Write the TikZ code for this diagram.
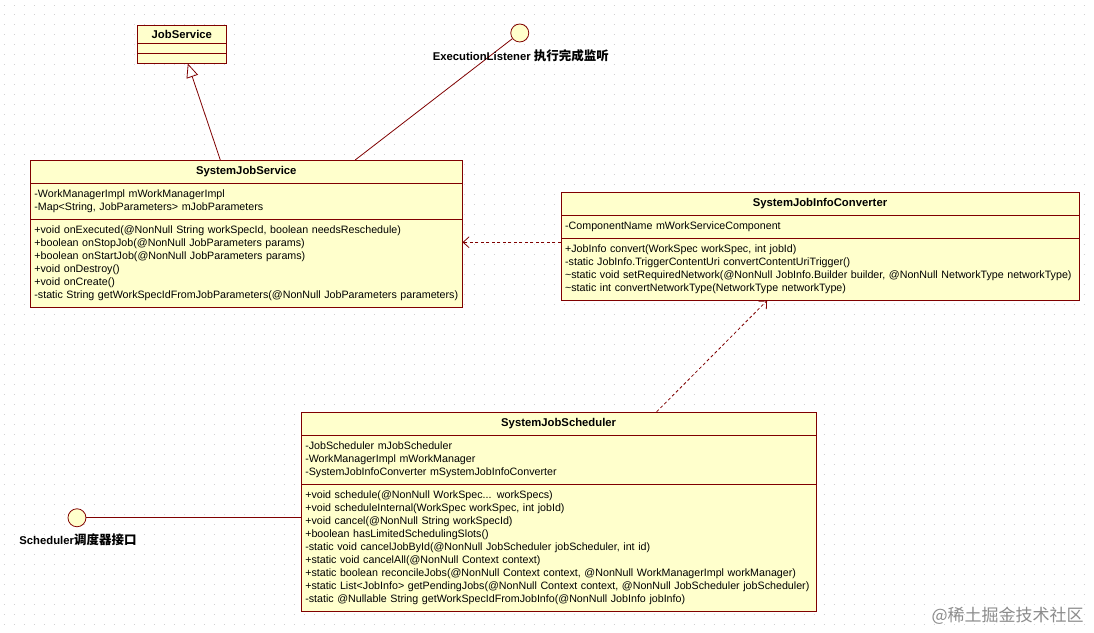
\documentclass[tikz,border=0pt]{standalone}
\usepackage{fontspec}
\setmainfont{Liberation Sans}
\newfontfamily\cjk{Noto Sans CJK SC}
\usetikzlibrary{shapes.multipart,arrows.meta}
\definecolor{umlfill}{RGB}{255,255,204}
\definecolor{umlline}{RGB}{128,0,0}
\tikzset{
    umlclass/.style={draw=umlline, fill=umlfill, rectangle split, rectangle split parts=3,
        anchor=north west, inner xsep=4pt, inner ysep=6pt, align=left,
        font=\fontsize{10.7}{13}\selectfont, line width=0.8pt},
    lollipop/.style={circle, draw=umlline, fill=umlfill, minimum size=18pt, inner sep=0pt, line width=0.8pt},
    umllabel/.style={font=\fontsize{11.3}{13}\selectfont\bfseries},
    assoc/.style={draw=umlline, line width=0.8pt},
    realize/.style={assoc, -{Triangle[open, length=14pt, width=12pt]}},
    depend/.style={assoc, dash pattern=on 3pt off 2.5pt, -{Straight Barb[length=6pt, width=11pt]}},
}
\newcommand{\classname}[1]{\hfill\textbf{\fontsize{11.3}{13}\selectfont #1}\hfill\null}
\newcommand{\zh}[1]{{\cjk\fontsize{12.5}{13}\selectfont #1}}

\begin{document}
\begin{tikzpicture}[x=1pt, y=-1pt]
\fill[white] (0,0) rectangle (1094,633);
\foreach \y in {5,15,...,625}
    \draw[black!18, line width=1pt, dash pattern=on 1pt off 9pt] (4,\y) -- (1094,\y);
\useasboundingbox (0,0) rectangle (1094,633);

\node[umlclass, text width=81pt, inner ysep=4.5pt] (jsvc) at (137,25)
    {\classname{JobService} \nodepart{second} \nodepart{third} };

\node[umlclass, text width=424pt] (sjs) at (30,160) {\classname{SystemJobService}
    \nodepart{second}
    -WorkManagerImpl mWorkManagerImpl\\
    -Map<String, JobParameters> mJobParameters
    \nodepart{third}
    +void onExecuted(@NonNull String workSpecId, boolean needsReschedule)\\
    +boolean onStopJob(@NonNull JobParameters params)\\
    +boolean onStartJob(@NonNull JobParameters params)\\
    +void onDestroy()\\
    +void onCreate()\\
    -static String getWorkSpecIdFromJobParameters(@NonNull JobParameters parameters)};

\node[umlclass, text width=510pt] (conv) at (561,192) {\classname{SystemJobInfoConverter}
    \nodepart{second}
    -ComponentName mWorkServiceComponent
    \nodepart{third}
    +JobInfo convert(WorkSpec workSpec, int jobId)\\
    -static JobInfo.TriggerContentUri convertContentUriTrigger()\\
    \textasciitilde static void setRequiredNetwork(@NonNull JobInfo.Builder builder, @NonNull NetworkType networkType)\\
    \textasciitilde static int convertNetworkType(NetworkType networkType)};

\node[umlclass, text width=507pt] (sched) at (301,412) {\classname{SystemJobScheduler}
    \nodepart{second}
    -JobScheduler mJobScheduler\\
    -WorkManagerImpl mWorkManager\\
    -SystemJobInfoConverter mSystemJobInfoConverter
    \nodepart{third}
    +void schedule(@NonNull WorkSpec... workSpecs)\\
    +void scheduleInternal(WorkSpec workSpec, int jobId)\\
    +void cancel(@NonNull String workSpecId)\\
    +boolean hasLimitedSchedulingSlots()\\
    -static void cancelJobById(@NonNull JobScheduler jobScheduler, int id)\\
    +static void cancelAll(@NonNull Context context)\\
    +static boolean reconcileJobs(@NonNull Context context, @NonNull WorkManagerImpl workManager)\\
    +static List<JobInfo> getPendingJobs(@NonNull Context context, @NonNull JobScheduler jobScheduler)\\
    -static @Nullable String getWorkSpecIdFromJobInfo(@NonNull JobInfo jobInfo)};

\node[lollipop] (execl) at (520,33) {};
\node[lollipop] (schd) at (77,518) {};

\draw[assoc] (execl) -- ([xshift=109pt]sjs.north);
\draw[assoc] (schd) -- (schd -| sched.west);
\draw[realize] ([xshift=-26pt]sjs.north) -- ([xshift=6pt]jsvc.south);
\draw[depend] ([yshift=4pt]conv.west) -- ([yshift=4pt]conv.west -| sjs.east);
\draw[depend] ([xshift=98pt]sched.north) -- ([xshift=-53pt]conv.south);

\node[umllabel] (execlbl) at (521,56) {ExecutionListener \zh{执行完成监听}};
\node[umllabel] (schdlbl) at (78,540) {Scheduler\zh{调度器接口}};

\node[text=black!45, font=\cjk\fontsize{17}{19}\selectfont] (mark) at (1008,616) {@稀土掘金技术社区};
\end{tikzpicture}
\end{document}
